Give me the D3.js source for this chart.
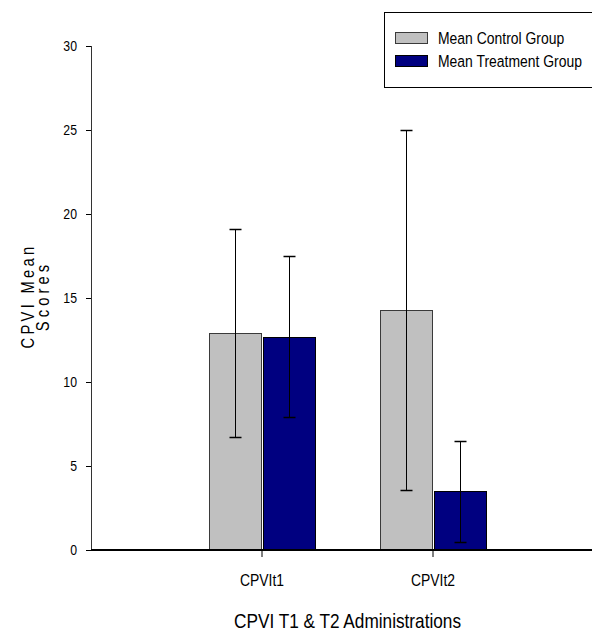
<!DOCTYPE html>
<html><head><meta charset="utf-8">
<script src="https://cdn.jsdelivr.net/npm/d3@7"></script>
<style>body{margin:0;background:#fff}svg{display:block}</style>
</head><body>
<script>
const categories = ["CPVIt1", "CPVIt2"];
const seriesNames = ["Mean Control Group", "Mean Treatment Group"];
const controlMeans = [12.9, 14.3];
const treatmentMeans = [12.7, 3.5];
const controlSD = [6.2, 10.7];
const treatmentSD = [4.8, 3.0];
const yTicks = [0, 5, 10, 15, 20, 25, 30];
const colors = ["#C0C0C0", "#000080"];

(function(){
const W = 592, H = 634;
const pL = 91, pR = 604, pT = 46, pB = 550;

function hasFont(name){
  const c = document.createElement("canvas").getContext("2d");
  c.font = "20px monospace"; const a = c.measureText("CPVI Mean Scores 0123").width;
  c.font = `20px "${name}", monospace`; const b = c.measureText("CPVI Mean Scores 0123").width;
  return Math.abs(a-b) > 0.5;
}
const narrow = hasFont("Liberation Sans Narrow");
const FAM = narrow ? '"Liberation Sans Narrow", "Liberation Sans", Arial, sans-serif' : '"Liberation Sans", Arial, sans-serif';
const SX = narrow ? 1 : 0.82;

const svg = d3.select("body").append("svg").attr("width", W).attr("height", H);

const y = d3.scaleLinear().domain([0, 30]).range([pB, pT]);
const x = d3.scalePoint().domain(categories).range([pL, pR]).padding(1);
const xs = d3.scaleBand().domain(seriesNames).range([-53, 53]).paddingInner(0.02);

function txt(g, s, px, py, size, anchor, rot){
  return g.append("text")
    .attr("transform", `translate(${px},${py})${rot ? ` rotate(${rot})` : ""} scale(${SX},1)`)
    .attr("font-family", FAM).attr("font-size", size).attr("fill", "#000")
    .attr("text-anchor", anchor).text(s);
}

// y axis
svg.append("line").attr("x1", pL+0.5).attr("x2", pL+0.5).attr("y1", pT).attr("y2", pB)
  .attr("stroke", "#333").attr("stroke-width", 1);
yTicks.forEach(v => {
  svg.append("line").attr("x1", pL-5).attr("x2", pL).attr("y1", Math.round(y(v))+0.5).attr("y2", Math.round(y(v))+0.5)
    .attr("stroke", "#000").attr("stroke-width", 1);
  txt(svg, String(v), pL-14, y(v)+5, 15, "end");
});

// bars
const data = [];
categories.forEach((c, i) => {
  data.push({cat: c, s: seriesNames[0], v: controlMeans[i], sd: controlSD[i], col: colors[0]});
  data.push({cat: c, s: seriesNames[1], v: treatmentMeans[i], sd: treatmentSD[i], col: colors[1]});
});
svg.selectAll("rect.bar").data(data).enter().append("rect").attr("class", "bar")
  .attr("x", d => Math.round(x(d.cat) + xs(d.s)) + 0.5)
  .attr("width", Math.round(xs.bandwidth()))
  .attr("y", d => Math.round(y(d.v)) + 0.5)
  .attr("height", d => Math.round(y(0)) - Math.round(y(d.v)))
  .attr("fill", d => d.col).attr("stroke", d => d.col === colors[0] ? "#3a3a3a" : "#000").attr("stroke-width", 1);

// error bars
data.forEach(d => {
  const cx = Math.round(x(d.cat) + xs(d.s) + xs.bandwidth()/2) + 0.5;
  const y1 = Math.round(y(d.v + d.sd)) + 0.5, y2 = Math.round(y(Math.max(0, d.v - d.sd))) + 0.5;
  svg.append("line").attr("x1", cx).attr("x2", cx).attr("y1", y1).attr("y2", y2).attr("stroke", "#000");
  [y1, y2].forEach(yy => svg.append("line").attr("x1", cx-6).attr("x2", cx+6).attr("y1", yy).attr("y2", yy)
    .attr("stroke", "#000").attr("stroke-width", 1.5));
});

// x axis
svg.append("line").attr("x1", pL).attr("x2", W).attr("y1", pB).attr("y2", pB)
  .attr("stroke", "#000").attr("stroke-width", 2);
categories.forEach(c => {
  svg.append("line").attr("x1", x(c)).attr("x2", x(c)).attr("y1", pB).attr("y2", pB+7)
    .attr("stroke", "#000").attr("stroke-width", 1);
  txt(svg, c, x(c), 586, 17, "middle");
});

// axis titles
txt(svg, "CPVI T1 & T2 Administrations", (232+463)/2, 628, 21, "middle");
const yl = svg.append("g");
txt(yl, "CPVI Mean", 34, 296, 18, "middle", -90).attr("letter-spacing", 4);
txt(yl, "Scores", 49, 296, 18, "middle", -90).attr("letter-spacing", 5);

// legend
const lg = svg.append("g");
lg.append("rect").attr("x", 384.5).attr("y", 12.5).attr("width", 220).attr("height", 75)
  .attr("fill", "#fff").attr("stroke", "#000");
seriesNames.forEach((s, i) => {
  lg.append("rect").attr("x", 395.5).attr("y", 32.5 + i*23).attr("width", 32).attr("height", 11)
    .attr("fill", colors[i]).attr("stroke", i === 0 ? "#3a3a3a" : "#000");
  txt(lg, s, 438, 44 + i*23, 17, "start");
});
})();
</script>
</body></html>
